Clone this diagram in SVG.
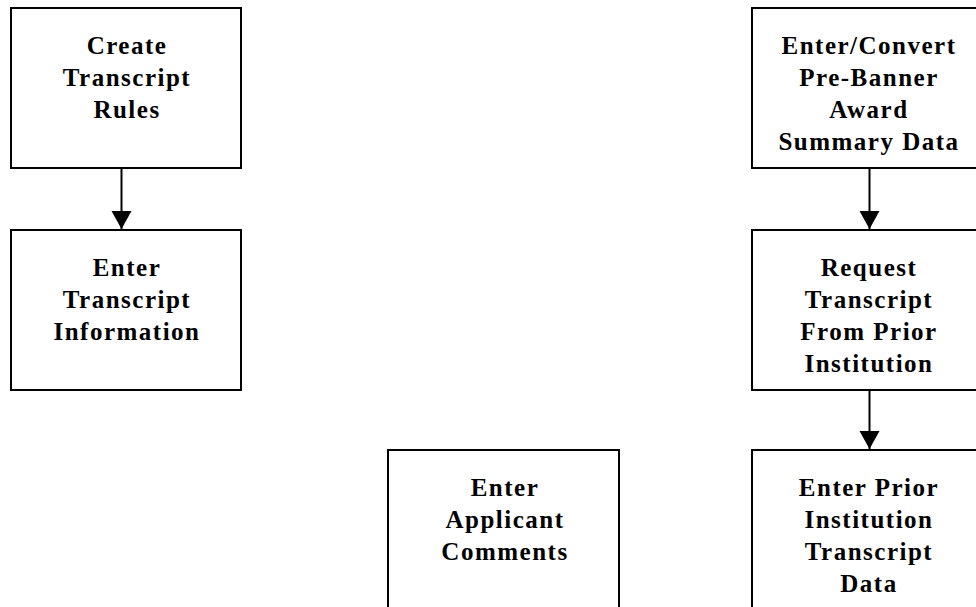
<svg xmlns="http://www.w3.org/2000/svg" width="976" height="607" viewBox="0 0 976 607">
  <style>
    .box { fill: #ffffff; stroke: #000000; stroke-width: 2; }
    .label { font-family: "Liberation Serif", "Times New Roman", serif; font-weight: bold; font-size: 25px; letter-spacing: 1.5px; fill: #000000; text-anchor: middle; }
    .link { stroke: #000000; stroke-width: 2; fill: none; marker-end: url(#head); }
  </style>
  <defs>
    <!-- filled triangular arrowhead, tip at the end of the line -->
    <marker id="head" markerUnits="userSpaceOnUse" markerWidth="20" markerHeight="22" refX="19" refY="11" orient="auto">
      <path d="M1,1 L19,11 L1,21 Z" fill="#000000"/>
    </marker>
  </defs>
  <rect width="976" height="607" fill="#ffffff"/>

  <g id="connectors">
    <line class="link" x1="121.5" y1="169" x2="121.5" y2="229"/>
    <line class="link" x1="869.5" y1="169" x2="869.5" y2="229"/>
    <line class="link" x1="869.5" y1="391" x2="869.5" y2="449"/>
  </g>

  <g id="create-rules">
    <rect class="box" x="11" y="8" width="230" height="160"/>
    <text class="label" x="127" y="54">Create</text>
    <text class="label" x="127" y="86">Transcript</text>
    <text class="label" x="127" y="118">Rules</text>
  </g>

  <g id="enter-transcript">
    <rect class="box" x="11" y="230" width="230" height="160"/>
    <text class="label" x="127" y="276">Enter</text>
    <text class="label" x="127" y="308">Transcript</text>
    <text class="label" x="127" y="340">Information</text>
  </g>

  <g id="convert-award">
    <rect class="box" x="752" y="8" width="230" height="160"/>
    <text class="label" x="869" y="54">Enter/Convert</text>
    <text class="label" x="869" y="86">Pre-Banner</text>
    <text class="label" x="869" y="118">Award</text>
    <text class="label" x="869" y="150">Summary Data</text>
  </g>

  <g id="request-transcript">
    <rect class="box" x="752" y="230" width="230" height="160"/>
    <text class="label" x="869" y="276">Request</text>
    <text class="label" x="869" y="308">Transcript</text>
    <text class="label" x="869" y="340">From Prior</text>
    <text class="label" x="869" y="372">Institution</text>
  </g>

  <g id="applicant-comments">
    <rect class="box" x="388" y="450" width="231" height="170"/>
    <text class="label" x="505" y="496">Enter</text>
    <text class="label" x="505" y="528">Applicant</text>
    <text class="label" x="505" y="560">Comments</text>
  </g>

  <g id="prior-transcript">
    <rect class="box" x="752" y="450" width="230" height="170"/>
    <text class="label" x="869" y="496">Enter Prior</text>
    <text class="label" x="869" y="528">Institution</text>
    <text class="label" x="869" y="560">Transcript</text>
    <text class="label" x="869" y="592">Data</text>
  </g>
</svg>
